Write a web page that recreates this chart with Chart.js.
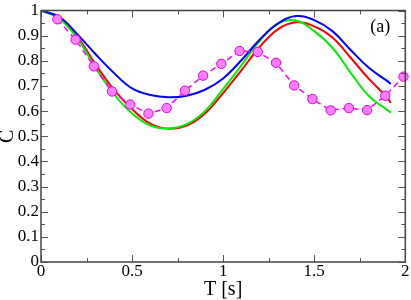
<!DOCTYPE html>
<html>
<head>
<meta charset="utf-8">
<script src="https://cdn.jsdelivr.net/npm/chart.js@4/dist/chart.umd.min.js"></script>
<style>
html,body{margin:0;padding:0;background:#fff;}
#wrap{width:411px;height:300px;}
</style>
</head>
<body>
<div id="wrap"><canvas id="c" width="411" height="300"></canvas></div>
<script>
// ---- data ----
const curveT = [0,0.1,0.2,0.3,0.4,0.5,0.6,0.7,0.8,0.9,1.0,1.1,1.2,1.3,1.4,1.5,1.6,1.7,1.8,1.9,1.92];
const blueC  = [1.0,0.975,0.905,0.826,0.752,0.69,0.664,0.655,0.661,0.685,0.73,0.802,0.884,0.948,0.978,0.962,0.918,0.843,0.772,0.72,0.708];
const redC   = [1.0,0.97,0.895,0.785,0.685,0.608,0.55,0.53,0.542,0.59,0.672,0.762,0.855,0.925,0.953,0.937,0.893,0.812,0.728,0.655,0.633];
const greenC = [1.0,0.968,0.888,0.772,0.668,0.59,0.542,0.531,0.548,0.6,0.688,0.782,0.878,0.948,0.96,0.918,0.852,0.752,0.66,0.605,0.594];
const dotT   = [0.09,0.19,0.29,0.39,0.49,0.59,0.69,0.79,0.89,0.99,1.09,1.19,1.29,1.39,1.49,1.59,1.69,1.79,1.89,1.99];
const dotC   = [0.965,0.884,0.778,0.678,0.626,0.59,0.612,0.681,0.741,0.788,0.839,0.835,0.792,0.702,0.648,0.603,0.612,0.604,0.661,0.737];
const xTicks = [0,0.5,1,1.5,2];
const yTicks = [0,0.1,0.2,0.3,0.4,0.5,0.6,0.7,0.8,0.9,1];
const xMinorStep = 0.25, yMinorStep = 0.05;
const panelLabel = '(a)';
const xTitle = 'T [s]', yTitle = 'C';

const pts = (xs, ys) => xs.map((t, i) => ({x: t, y: ys[i]}));
const FONT = '"Liberation Serif", "Times New Roman", serif';
const fmt = v => String(Math.round(v * 1000) / 1000);

const frameTicks = {
  id: 'frameTicks',
  afterDatasetsDraw(chart) {
    const {ctx, chartArea: a, scales: {x, y}} = chart;
    ctx.save();
    ctx.strokeStyle = '#555';
    ctx.lineWidth = 1;
    ctx.beginPath();
    const xMax = xTicks[xTicks.length - 1];
    for (let i = 0; i * xMinorStep <= xMax + 1e-9; i++) {
      const v = i * xMinorStep;
      const major = xTicks.some(t => Math.abs(t - v) < 1e-9);
      const len = major ? 7 : 4;
      const px = Math.round(x.getPixelForValue(v)) + 0.5;
      ctx.moveTo(px, a.bottom); ctx.lineTo(px, a.bottom - len);
      ctx.moveTo(px, a.top); ctx.lineTo(px, a.top + len);
    }
    const yMax = yTicks[yTicks.length - 1];
    for (let i = 0; i * yMinorStep <= yMax + 1e-9; i++) {
      const v = i * yMinorStep;
      const major = yTicks.some(t => Math.abs(t - v) < 1e-9);
      const len = major ? 7 : 4;
      const py = Math.round(y.getPixelForValue(v)) + 0.5;
      ctx.moveTo(a.left, py); ctx.lineTo(a.left + len, py);
      ctx.moveTo(a.right, py); ctx.lineTo(a.right - len, py);
    }
    ctx.stroke();
    ctx.strokeStyle = '#444';
    ctx.lineWidth = 1.5;
    ctx.strokeRect(a.left, a.top, a.width, a.height);
    ctx.fillStyle = '#000';
    ctx.font = '18px ' + FONT;
    ctx.textAlign = 'center';
    ctx.textBaseline = 'middle';
    ctx.fillText(panelLabel, a.right - 25, a.top + 17);
    ctx.restore();
  }
};

const curveStyle = (color) => ({
  showLine: true,
  borderColor: color,
  borderWidth: 2,
  pointRadius: 0,
  tension: 0.4,
  cubicInterpolationMode: 'default'
});

new Chart(document.getElementById('c'), {
  type: 'scatter',
  data: {
    datasets: [
      {
        data: pts(dotT, dotC),
        showLine: true,
        borderColor: '#ff00ff',
        borderWidth: 1.5,
        borderDash: [6, 4],
        pointRadius: 4.7,
        pointBackgroundColor: '#ff80ff',
        pointBorderColor: '#e000e0',
        pointBorderWidth: 1,
        clip: false
      },
      Object.assign({data: pts(curveT, blueC)}, curveStyle('#0000ff')),
      Object.assign({data: pts(curveT, greenC)}, curveStyle('#00ee00')),
      Object.assign({data: pts(curveT, redC)}, curveStyle('#ff0000'))
    ]
  },
  options: {
    responsive: false,
    animation: false,
    events: [],
    layout: {padding: {top: 6, right: 5, left: 0, bottom: 0}},
    plugins: {legend: {display: false}, tooltip: {enabled: false}},
    scales: {
      x: {
        type: 'linear',
        min: xTicks[0], max: xTicks[xTicks.length - 1],
        afterBuildTicks: s => { s.ticks = xTicks.map(v => ({value: v})); },
        afterFit: s => { s.height = 38; },
        grid: {display: false, drawTicks: false},
        border: {display: false},
        ticks: {color: '#000', padding: 1, maxRotation: 0, callback: fmt, font: {family: FONT, size: 17, lineHeight: 1}},
        title: {display: true, text: xTitle, color: '#000', padding: 0, font: {family: FONT, size: 20, lineHeight: 1}}
      },
      y: {
        type: 'linear',
        min: yTicks[0], max: yTicks[yTicks.length - 1],
        afterBuildTicks: s => { s.ticks = yTicks.map(v => ({value: v})); },
        afterFit: s => { s.width = 41; },
        grid: {display: false, drawTicks: false},
        border: {display: false},
        ticks: {color: '#000', padding: 2, callback: fmt, font: {family: FONT, size: 17, lineHeight: 1}},
        title: {display: true, text: yTitle, color: '#000', padding: 0, font: {family: FONT, size: 20, lineHeight: 0.75}}
      }
    }
  },
  plugins: [frameTicks]
});
</script>
</body>
</html>
